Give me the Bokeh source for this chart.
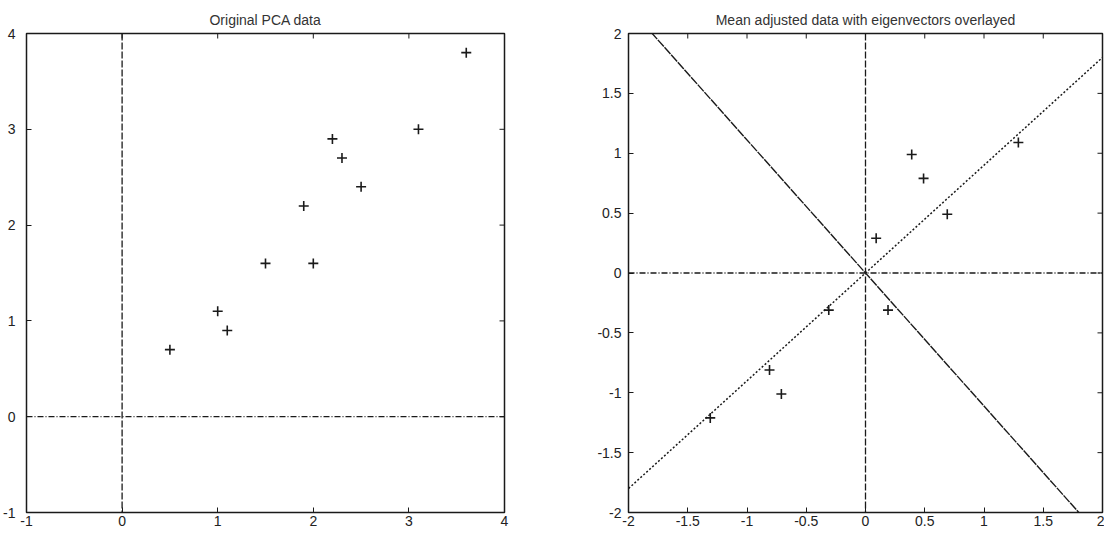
import numpy as np
from bokeh.plotting import figure
from bokeh.models import Span, Range1d, FixedTicker
from bokeh.layouts import row
from bokeh.embed import file_html
from bokeh.resources import INLINE

# ---- data ----
orig_x = [0.5, 1.0, 1.1, 1.5, 1.9, 2.0, 2.2, 2.3, 2.5, 3.1, 3.6]
orig_y = [0.7, 1.1, 0.9, 1.6, 2.2, 1.6, 2.9, 2.7, 2.4, 3.0, 3.8]
adj_x = [0.69, -1.31, 0.39, 0.09, 1.29, 0.49, 0.19, -0.81, -0.31, -0.71]
adj_y = [0.49, -1.21, 0.99, 0.29, 1.09, 0.79, -0.31, -0.81, -0.31, -1.01]
eig_major = [0.7433, 0.6690]
eig_minor = [-0.6690, 0.7433]
left_ticks = [-1, 0, 1, 2, 3, 4]
left_labels = ["-1", "0", "1", "2", "3", "4"]
right_ticks = [-2, -1.5, -1, -0.5, 0, 0.5, 1, 1.5, 2]
right_labels = ["-2", "-1.5", "-1", "-0.5", "0", "0.5", "1", "1.5", "2"]
left_title = "Original PCA data"
right_title = "Mean adjusted data with eigenvectors overlayed"

FONT = "Liberation Sans"
INK = "#1a1a1a"


def style_axis(ax, ticks, labels, standoff):
    ax.ticker = FixedTicker(ticks=ticks)
    ax.major_label_overrides = {t: l for t, l in zip(ticks, labels)}
    ax.major_tick_in = 5
    ax.major_tick_out = 0
    ax.minor_tick_line_color = None
    ax.major_tick_line_color = INK
    ax.major_tick_line_width = 1
    ax.axis_line_color = None
    ax.major_label_text_font = FONT
    ax.major_label_text_color = "#222222"
    ax.major_label_text_font_size = "14px"
    ax.major_label_standoff = standoff


def make_fig(title, xr, yr, ticks, labels, width, height, bl, br, bt, bb, ystand):
    p = figure(width=width, height=height, x_range=Range1d(*xr), y_range=Range1d(*yr),
               output_backend="svg", toolbar_location=None,
               min_border_left=bl, min_border_right=br,
               min_border_top=bt, min_border_bottom=bb)
    p.title.text = title
    p.title.align = "center"
    p.title.text_font = FONT
    p.title.text_font_size = "14px"
    p.title.text_font_style = "normal"
    p.title.text_color = "#333333"
    p.title.standoff = 12
    p.grid.visible = False
    p.outline_line_color = INK
    p.outline_line_width = 1.5
    p.background_fill_color = "white"
    p.border_fill_color = "white"
    style_axis(p.xaxis[0], ticks, labels, 3)
    style_axis(p.yaxis[0], ticks, labels, ystand)
    # mirrored inward ticks on the top and right edges (clipped to the frame)
    n = len(ticks)
    p.scatter(ticks, [yr[1]] * n, marker="dash", angle=np.pi / 2, size=10,
              line_color=INK, line_width=1)
    p.scatter([xr[1]] * n, ticks, marker="dash", size=10,
              line_color=INK, line_width=1)
    return p


# ---- left plot ----
p1 = make_fig(left_title, (-1, 4), (-1, 4), left_ticks, left_labels,
              514, 532, 23, 10, 33, 17, 11)
p1.add_layout(Span(location=0, dimension="height", line_color=INK,
                   line_width=1.3, line_dash="7 2"))
p1.add_layout(Span(location=0, dimension="width", line_color=INK,
                   line_width=1.3, line_dash="6 2 1 2"))
p1.scatter(orig_x, orig_y, marker="cross", size=10, line_width=1.6, color=INK)

# ---- right plot ----
p2 = make_fig(right_title, (-2, 2), (-2, 2), right_ticks, right_labels,
              590, 532, 114, 2, 33, 20, 7)
p2.add_layout(Span(location=0, dimension="height", line_color=INK,
                   line_width=1.3, line_dash="7 2"))
p2.add_layout(Span(location=0, dimension="width", line_color=INK,
                   line_width=1.3, line_dash="6 2 1 2"))
t = np.array([-4.0, 4.0])
p2.line(t * eig_major[0], t * eig_major[1], line_color=INK, line_width=1.5,
        line_dash="2 2")
p2.line(t * eig_minor[0], t * eig_minor[1], line_color=INK, line_width=1.4,
        line_dash="9 1")
p2.scatter(adj_x, adj_y, marker="cross", size=10, line_width=1.6, color=INK)

layout = row(p1, p2)
open("out.html", "w").write(file_html(layout, INLINE))
